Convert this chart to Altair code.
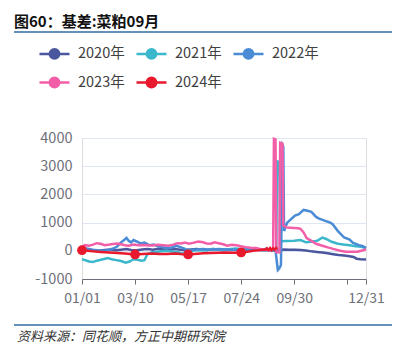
import altair as alt
import pandas as pd

title_text = "图60：基差:菜粕09月"
source_text = "资料来源：同花顺，方正中期研究院"
years = ["2020年", "2021年", "2022年", "2023年", "2024年"]
colors = ["#4a569d", "#3bb7cc", "#4a8bd6", "#f25ea7", "#e8192c"]

d2020 = ["01/01", "01/06", "01/11", "01/17", "01/23", "01/30", "02/06", "02/13", "02/20", "02/27",
         "03/05", "03/12", "03/19", "03/26", "04/02", "04/09", "04/16", "04/23", "04/30", "05/07",
         "05/14", "05/21", "05/28", "06/04", "06/11", "06/18", "06/25", "07/02", "07/09", "07/16",
         "07/23", "07/30", "08/06", "08/13", "08/20", "08/27", "09/03", "09/10", "09/17", "09/24",
         "10/01", "10/08", "10/15", "10/22", "10/29", "11/05", "11/12", "11/19", "11/26", "12/03",
         "12/10", "12/15", "12/19", "12/24", "12/31"]
v2020 = [30, 10, 40, 20, 0, 30, 50, 20, 40, 60,
         30, 20, 50, 60, 40, 70, 50, 30, 60, 40,
         20, 50, 60, 40, 30, 60, 50, 30, 50, 40,
         20, 30, 50, 40, 20, 30, 10, 30, 50, 40,
         40, 30, 10, -20, -40, -60, -90, -120, -150, -170,
         -190, -220, -280, -300, -310]

d2021 = ["01/01", "01/05", "01/10", "01/15", "01/20", "01/28", "02/03", "02/08", "02/14", "02/20",
         "02/26", "03/03", "03/08", "03/13", "03/18", "03/22", "03/26", "04/01", "04/06", "04/12",
         "04/20", "04/28", "05/05", "05/10", "05/15", "05/22", "06/01", "06/10", "06/17", "06/25",
         "07/01", "07/10", "07/18", "07/25", "08/01", "08/10", "08/18", "08/25", "09/01", "09/07",
         "09/08", "09/11", "09/12", "09/20", "09/30", "10/08", "10/15", "10/22", "10/30", "11/05",
         "11/10", "11/17", "11/25", "12/02", "12/10", "12/18", "12/25", "12/31"]
v2021 = [-300, -330, -380, -400, -350, -300, -260, -300, -330, -360,
         -420, -380, -300, -320, -350, -330, -120, -50, -40, -20,
         0, -30, -60, -100, -60, 0, 30, 20, 60, 40,
         20, 60, 80, 50, 60, 40, 50, 60, 40, 50,
         3170, 3150, 340, 350, 360, 380, 300, 320, 360, 470,
         420, 320, 250, 220, 200, 160, 140, 100]

d2022 = ["01/01", "01/07", "01/14", "01/21", "01/28", "02/04", "02/10", "02/15", "02/20", "02/24",
         "02/27", "03/02", "03/05", "03/08", "03/12", "03/17", "03/22", "03/28", "04/03", "04/08",
         "04/14", "04/20", "04/26", "05/02", "05/08", "05/14", "05/20", "05/28", "06/05", "06/15",
         "06/25", "07/05", "07/15", "07/25", "08/05", "08/15", "08/25", "09/01", "09/06", "09/08",
         "09/09", "09/11", "09/13", "09/15", "09/16", "09/17", "09/21", "10/01", "10/06", "10/12",
         "10/17", "10/22", "10/28", "11/01", "11/08", "11/15", "11/18", "11/25", "12/03", "12/10",
         "12/14", "12/22", "12/27", "12/31"]
v2022 = [50, 80, 40, 20, 0, 30, 80, 150, 300, 380,
         460, 350, 300, 380, 330, 260, 290, 200, 220, 160,
         130, 100, 120, 180, 120, 60, 30, 50, 60, 40,
         60, 50, 40, 30, 50, 40, 60, 50, 20, -450,
         -680, -620, -500, 3750, 3700, 700, 1000, 1250, 1300, 1450,
         1420, 1380, 1200, 1140, 1070, 1000, 950, 700, 470, 400,
         290, 200, 160, 100]

d2023 = ["01/01", "01/05", "01/10", "01/15", "01/20", "01/25", "01/30", "02/05", "02/10", "02/15",
         "02/20", "02/25", "03/02", "03/08", "03/14", "03/20", "03/26", "04/01", "04/08", "04/15",
         "04/22", "04/28", "05/03", "05/08", "05/13", "05/18", "05/23", "05/30", "06/05", "06/10",
         "06/15", "06/20", "06/25", "07/01", "07/06", "07/12", "07/18", "07/24", "07/30", "08/05",
         "08/12", "08/18", "08/24", "08/29", "09/03", "09/04", "09/06", "09/07", "09/11", "09/12",
         "09/15", "09/16", "09/20", "09/25", "09/30", "10/05", "10/08", "10/12", "10/16", "10/22",
         "10/28", "11/05", "11/12", "11/20", "11/28", "12/05", "12/12", "12/20", "12/26", "12/31"]
v2023 = [150, 200, 180, 220, 270, 250, 200, 220, 240, 260,
         230, 200, 180, 220, 200, 210, 200, 190, 210, 200,
         180, 220, 270, 260, 290, 250, 280, 330, 300, 260,
         250, 300, 270, 230, 180, 210, 200, 160, 130, 110,
         100, 60, 40, 30, 80, 3970, 3950, -50, -60, 3830,
         3800, 900, 830, 820, 810, 800, 780, 650, 450, 350,
         250, 180, 120, 60, 0, -30, -30, -30, 10, 50]

d2024 = ["01/01", "01/08", "01/15", "01/25", "02/05", "02/15", "02/25", "03/10", "03/20", "04/01",
         "04/10", "04/20", "05/01", "05/10", "05/17", "05/25", "06/05", "06/15", "06/25", "07/05",
         "07/15", "07/24", "08/01", "08/08", "08/15", "08/20", "08/24", "08/26", "08/28", "08/30",
         "09/01", "09/03", "09/05", "09/07", "09/08"]
v2024 = [20, 0, -20, -40, -60, -80, -100, -130, -110, -100,
         -110, -110, -100, -120, -130, -110, -90, -80, -70, -60,
         -70, -60, -30, 0, 20, 40, 40, 90, 30, 100,
         20, 90, 40, 100, 60]
markers_2024 = ["01/01", "03/10", "05/17", "07/24"]

tick_days = [0, 68, 136, 204, 272, 340, 364]
y_ticks = [-1000, 0, 1000, 2000, 3000, 4000]

cum = [0, 31, 59, 90, 120, 151, 181, 212, 243, 273, 304, 334]


def to_day(s):
    m, d = s.split("/")
    return cum[int(m) - 1] + int(d) - 1


rows = []
for yr, ds, vs in zip(years, [d2020, d2021, d2022, d2023, d2024], [v2020, v2021, v2022, v2023, v2024]):
    for d, v in zip(ds, vs):
        rows.append({"year": yr, "day": to_day(d), "value": v,
                     "marker": yr == "2024年" and d in markers_2024})
df = pd.DataFrame(rows)

FONT = "Noto Sans CJK SC"
color_scale = alt.Scale(domain=years, range=colors)

x_enc = alt.X(
    "day:Q",
    scale=alt.Scale(domain=[0, 364], nice=False, zero=False),
    axis=alt.Axis(
        values=tick_days,
        labelExpr="datum.value == 340 ? '' : timeFormat(datetime(2023, 0, 1 + datum.value), '%m/%d')",
        title=None, grid=False, domainColor="#6e7079", tickColor="#6e7079", tickSize=5,
        labelColor="#6e7079", labelFontSize=14, labelPadding=7, labelOverlap=False,
        labelFlush=False, labelBound=False, labelFont=FONT,
    ),
)
y_enc = alt.Y(
    "value:Q",
    scale=alt.Scale(domain=[-1000, 4000], nice=False, zero=False),
    axis=alt.Axis(
        values=y_ticks, labelExpr="datum.value + ''", title=None, domain=False, ticks=False,
        tickSize=0, gridColor="#e0e6f1", gridWidth=1, labelColor="#6e7079", labelFontSize=14.5,
        labelPadding=10, labelFont=FONT, labelOverlap=False, labelBound=False, labelFlush=False,
    ),
)

# line with a dot drawn as concentric stroked rings (fills the disc)
legend_path = ("M-1.5,0L1.5,0 "
               "M-0.12,0A0.12,0.12 0 1,1 0.12,0A0.12,0.12 0 1,1 -0.12,0 "
               "M-0.3,0A0.3,0.3 0 1,1 0.3,0A0.3,0.3 0 1,1 -0.3,0 "
               "M-0.47,0A0.47,0.47 0 1,1 0.47,0A0.47,0.47 0 1,1 -0.47,0")

base = alt.Chart(df)

lines = base.mark_line(strokeWidth=2.5, interpolate="linear").encode(
    x=x_enc, y=y_enc,
    color=alt.Color(
        "year:N", scale=color_scale,
        legend=alt.Legend(
            title=None, orient="none", legendX=-39, legendY=-96, direction="horizontal",
            columns=3, symbolType=legend_path, symbolSize=400, symbolStrokeWidth=2.5,
            labelOffset=12, columnPadding=6, rowPadding=7, padding=0,
            labelFontSize=14.5, labelColor="#404040", labelFont=FONT,
            symbolOpacity=1,
        ),
    ),
)

points = base.transform_filter("datum.marker").mark_point(filled=True, size=95, opacity=1).encode(
    x=x_enc, y=y_enc,
    fill=alt.Fill("year:N", scale=color_scale, legend=None),
)

one = pd.DataFrame({"k": [0]})
title_mark = alt.Chart(one).mark_text(
    text=title_text, align="left", baseline="middle", font=FONT, fontSize=15,
    fontWeight="bold", color="#111111",
).encode(x=alt.value(-68), y=alt.value(-116))
top_rule = alt.Chart(one).mark_rule(color="#2f6ca3", strokeWidth=1.5).encode(
    x=alt.value(-68), x2=alt.value(310), y=alt.value(-106))
bottom_rule = alt.Chart(one).mark_rule(color="#2f6ca3", strokeWidth=1.5).encode(
    x=alt.value(-68), x2=alt.value(310), y=alt.value(187))
source_mark = alt.Chart(one).mark_text(
    text=source_text, align="left", baseline="middle", font=FONT, fontSize=13,
    fontStyle="italic", color="#333333",
).encode(x=alt.value(-65), y=alt.value(199))

chart = alt.layer(lines, points, title_mark, top_rule, bottom_rule, source_mark).properties(
    width=284, height=141, autosize="none",
    padding={"left": 82, "top": 138, "right": 33, "bottom": 74},
).configure_view(stroke=None).configure_axisY(labelOverlap=False).configure(background="white")

chart.save("out.html", embed_options={"renderer": "svg", "actions": False})
